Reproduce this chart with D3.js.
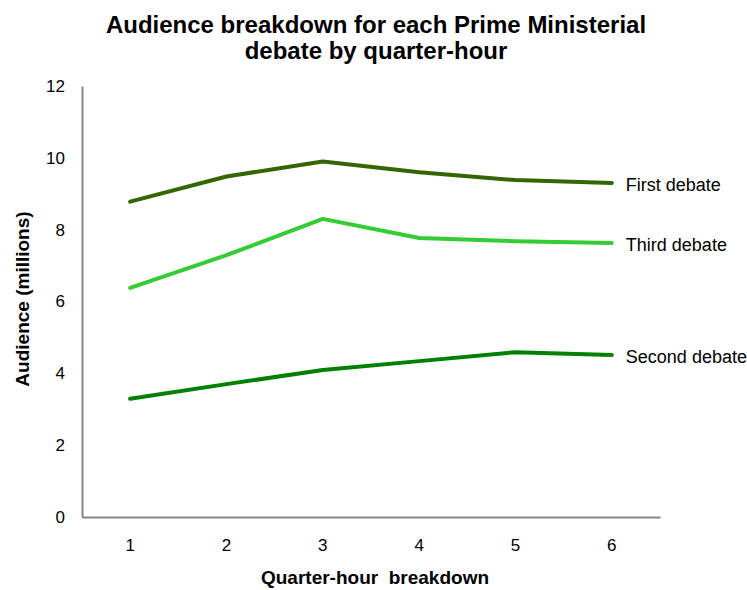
<!DOCTYPE html>
<html>
<head>
<meta charset="utf-8">
<script src="https://cdn.jsdelivr.net/npm/d3@7"></script>
<style>
body { margin: 0; background: #fff; }
svg { font-family: "Liberation Sans", Arial, sans-serif; }
</style>
</head>
<body>
<svg id="chart" width="747" height="590"></svg>
<script>
const categories = ["1", "2", "3", "4", "5", "6"];
const firstDebate = [8.78, 9.48, 9.90, 9.60, 9.38, 9.30];
const thirdDebate = [6.38, 7.29, 8.30, 7.77, 7.68, 7.63];
const secondDebate = [3.29, 3.70, 4.09, 4.34, 4.59, 4.51];
const seriesNames = ["First debate", "Third debate", "Second debate"];
const seriesColors = ["#336600", "#33cc33", "#008000"];
const yTicks = [0, 2, 4, 6, 8, 10, 12];

const seriesValues = [firstDebate, thirdDebate, secondDebate];
const svg = d3.select("#chart");
const m = { left: 82, right: 87, top: 86, bottom: 73 };
const W = 747, H = 590;

const x = d3.scaleBand().domain(categories).range([m.left, W - m.right]);
const y = d3.scaleLinear().domain([0, 12]).range([H - m.bottom, m.top]);

// axes
const yAxis = svg.append("g").attr("transform", `translate(${m.left},0)`)
  .call(d3.axisLeft(y).tickValues(yTicks).tickSize(0).tickPadding(17));
const xAxis = svg.append("g").attr("transform", `translate(0,${H - m.bottom})`)
  .call(d3.axisBottom(x).tickSize(0).tickPadding(22));
[yAxis, xAxis].forEach(a => {
  a.attr("font-size", 17).attr("font-family", "Liberation Sans, Arial, sans-serif");
  a.select(".domain").attr("stroke", "#868686").attr("stroke-width", 2);
  a.selectAll("text").attr("font-size", 17).attr("fill", "#000");
});

const line = d3.line().x((d, i) => x(categories[i]) + x.bandwidth() / 2).y(d => y(d));

seriesValues.forEach((vals, k) => {
  svg.append("path").datum(vals)
    .attr("d", line)
    .attr("fill", "none")
    .attr("stroke", seriesColors[k])
    .attr("stroke-width", 4)
    .attr("stroke-linecap", "round")
    .attr("stroke-linejoin", "round");
  const last = vals[vals.length - 1];
  svg.append("text")
    .attr("x", x(categories[categories.length - 1]) + x.bandwidth() / 2 + 14)
    .attr("y", y(last) + 8)
    .attr("font-size", 18)
    .attr("fill", "#000")
    .text(seriesNames[k]);
});

// title
svg.append("text").attr("x", 376).attr("y", 33).attr("text-anchor", "middle")
  .attr("font-size", 24).attr("font-weight", "bold").text("Audience breakdown for each Prime Ministerial");
svg.append("text").attr("x", 376).attr("y", 59).attr("text-anchor", "middle")
  .attr("font-size", 24).attr("font-weight", "bold").text("debate by quarter-hour");

// axis titles
svg.append("text").attr("transform", `translate(29,299) rotate(-90)`)
  .attr("text-anchor", "middle").attr("font-size", 19).attr("font-weight", "bold")
  .text("Audience (millions)");
svg.append("text").attr("x", 375).attr("y", 584).attr("text-anchor", "middle")
  .attr("font-size", 19).attr("font-weight", "bold").attr("xml:space", "preserve")
  .style("white-space", "pre")
  .text("Quarter-hour  breakdown");
</script>
</body>
</html>
